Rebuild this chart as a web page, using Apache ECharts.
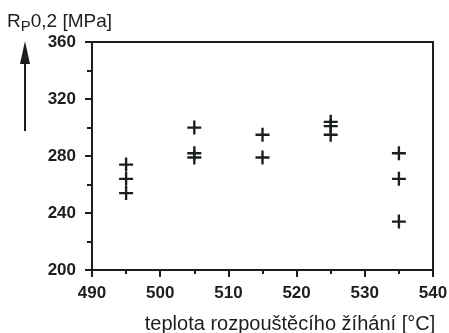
<!DOCTYPE html>
<html><head><meta charset="utf-8">
<script src="https://cdn.jsdelivr.net/npm/echarts@6/dist/echarts.min.js"></script>
<style>html,body{margin:0;padding:0;background:#fff}#c{width:449px;height:333px}</style>
</head><body><div id="c"></div>
<script>
const temperatures = [495,495,495,505,505,505,515,515,525,525,525,535,535,535];
const strengths    = [274,264,254,300,282,279,295,279,304,301,295,282,264,234];
const xTicks = [490,500,510,520,530,540];
const yTicks = [200,240,280,320,360];
const xTitle = 'teplota rozpouštěcího žíhání [°C]';

const ink = '#1b1f1c';
const plus = 'path://M0,5.5h13v2.2h-13z M5.4,0h2.2v13h-2.2z';
const chart = echarts.init(document.getElementById('c'), null, {renderer:'canvas'});
chart.setOption({
  backgroundColor:'#ffffff',
  animation:false,
  grid:{left:92,right:16,top:42,bottom:63,show:true,borderColor:ink,borderWidth:2,backgroundColor:'transparent',
    containLabel:false,outerBoundsMode:'none'},
  xAxis:{type:'value',min:xTicks[0],max:xTicks[xTicks.length-1],interval:10,
    axisLine:{show:true,lineStyle:{color:ink,width:2}},
    axisTick:{show:true,inside:false,length:7,lineStyle:{color:ink,width:2}},
    minorTick:{show:true,splitNumber:2,length:4,lineStyle:{color:ink,width:2}},
    splitLine:{show:false},
    axisLabel:{margin:15,color:ink,fontFamily:'Liberation Sans, Arial',fontWeight:'bold',fontSize:17},
    name:xTitle,nameLocation:'middle',nameGap:44,
    nameTextStyle:{color:ink,fontFamily:'Liberation Sans, Arial',fontSize:20,padding:[0,0,0,55]}
  },
  yAxis:{type:'value',min:yTicks[0],max:yTicks[yTicks.length-1],interval:40,
    axisLine:{show:true,lineStyle:{color:ink,width:2}},
    axisTick:{show:true,inside:false,length:7,lineStyle:{color:ink,width:2}},
    minorTick:{show:true,splitNumber:2,length:5,lineStyle:{color:ink,width:2}},
    splitLine:{show:false},
    axisLabel:{margin:16,color:ink,fontFamily:'Liberation Sans, Arial',fontWeight:'bold',fontSize:17}
  },
  graphic:[
    {type:'line',shape:{x1:25,y1:60,x2:25,y2:131},style:{stroke:ink,lineWidth:2}},
    {type:'polygon',shape:{points:[[25,41],[20,64],[30,64]]},style:{fill:ink}},
    {type:'text',left:7,top:12,style:{
      rich:{n:{fontSize:19,fontFamily:'Liberation Sans, Arial',fill:ink},
            s:{fontSize:15,fontFamily:'Liberation Sans, Arial',fill:ink,padding:[10,0,0,0]}},
      text:'{n|R}{s|P}{n|0,2 [MPa]}'}}
  ],
  series:[{type:'scatter',data:temperatures.map((t,i)=>[t,strengths[i]]),
    symbol:plus,symbolSize:14,itemStyle:{color:ink,opacity:1}}]
});
</script></body></html>
